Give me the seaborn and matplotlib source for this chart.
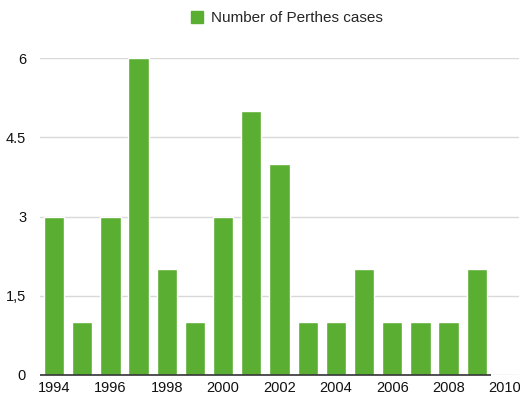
import matplotlib
matplotlib.use("Agg")
import matplotlib.pyplot as plt
from matplotlib.patches import Patch
import seaborn as sns
import pandas as pd

years = ["1994", "1995", "1996", "1997", "1998", "1999", "2000", "2001",
         "2002", "2003", "2004", "2005", "2006", "2007", "2008", "2009"]
cases = [3, 1, 3, 6, 2, 1, 3, 5, 4, 1, 1, 2, 1, 1, 1, 2]
slots = years + ["2010"]
tick_labels = ["1994", "1996", "1998", "2000", "2002", "2004", "2006", "2008", "2010"]
y_ticks = [0, 1.5, 3, 4.5, 6]
y_tick_labels = ["0", "1,5", "3", "4.5", "6"]
series_name = "Number of Perthes cases"
bar_color = "#5AAE31"

sns.set_theme(style="white")
plt.rcParams["font.family"] = ["Liberation Sans", "DejaVu Sans"]

df = pd.DataFrame({"year": years, "cases": cases})

fig = plt.figure(figsize=(5.2, 3.95), dpi=100)
ax = fig.add_axes([40 / 520, 20 / 395, 479 / 520, 317 / 395])

sns.barplot(data=df, x="year", y="cases", order=slots, color=bar_color,
            saturation=1, width=0.72, ax=ax, zorder=3)

ax.set_ylim(0, 6)
ax.set_xlim(-0.5, len(slots) - 0.5)
ax.set_yticks(y_ticks)
ax.set_yticklabels(y_tick_labels)
ax.set_xticks(range(0, len(slots), 2))
ax.set_xticklabels(tick_labels)
ax.tick_params(axis="both", length=0, labelsize=10.5, colors="#111111")
ax.tick_params(axis="y", pad=10)
ax.tick_params(axis="x", pad=4)
ax.set_xlabel("")
ax.set_ylabel("")

ax.yaxis.grid(True, color="#d9d9d9", linewidth=1)
ax.set_axisbelow(True)
for s in ax.spines.values():
    s.set_visible(False)
ax.hlines(0, -0.5, len(years) - 0.5, color="#333333", linewidth=1.2, zorder=4,
          clip_on=False)

fig.legend(handles=[Patch(color=bar_color, label=series_name)],
           loc="center", bbox_to_anchor=(287 / 520, 1 - 18 / 395),
           frameon=False, fontsize=11, handlelength=0.8, handleheight=0.8,
           handletextpad=0.5)

fig.savefig("out.png", dpi=100)
